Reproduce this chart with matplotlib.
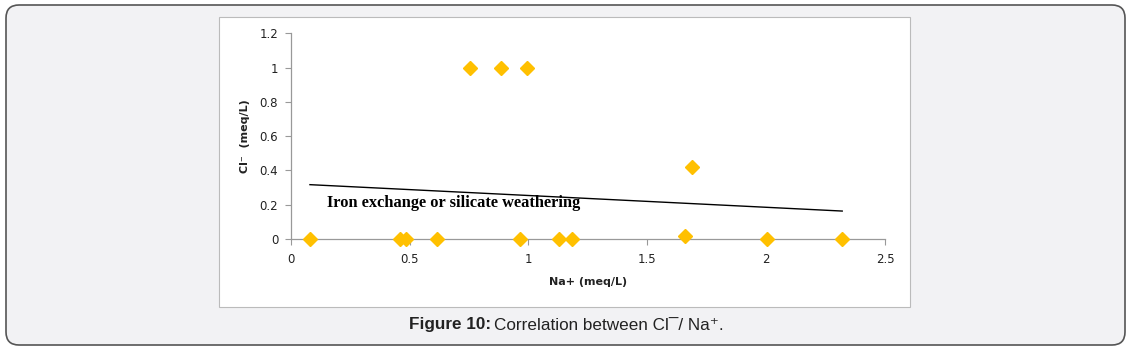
import matplotlib.pyplot as plt
from matplotlib.patches import FancyBboxPatch, Rectangle

# --- data ---
na = [0.081, 0.458, 0.486, 0.615, 0.964, 1.129, 1.182, 1.657, 2.005, 2.32,
      0.756, 0.884, 0.992, 1.689]
cl = [0, 0, 0, 0, 0, 0, 0, 0.02, 0, 0,
      1, 1, 1, 0.42]
line_x = [0.081, 2.32]
line_y = [0.317, 0.163]
x_ticks = [0, 0.5, 1, 1.5, 2, 2.5]
x_tick_labels = ['0', '0.5', '1', '1.5', '2', '2.5']
y_ticks = [0, 0.2, 0.4, 0.6, 0.8, 1, 1.2]
y_tick_labels = ['0', '0.2', '0.4', '0.6', '0.8', '1', '1.2']

W, H = 1132, 350
fig = plt.figure(figsize=(W / 100, H / 100), dpi=100)
fig.patch.set_facecolor('white')

# background axes in pixel units for the frame and panel
bg = fig.add_axes([0, 0, 1, 1], zorder=-1)
bg.set_xlim(0, W)
bg.set_ylim(H, 0)
bg.axis('off')
bg.add_patch(FancyBboxPatch((6, 5), 1119, 340,
                            boxstyle='round,pad=0,rounding_size=13',
                            facecolor='#f2f2f4', edgecolor='#555555',
                            linewidth=1.2))
bg.add_patch(Rectangle((219, 17), 691, 290, facecolor='white',
                       edgecolor='#bbbbbb', linewidth=0.8))

ax = fig.add_axes([290.7 / W, 1 - 239 / H, 594.3 / W, 205.7 / H])
ax.set_facecolor('none')
ax.plot(line_x, line_y, color='black', linewidth=1.0)
ax.plot(na, cl, linestyle='none', marker='D', markersize=7.5,
        color='#ffc000', markeredgecolor='#ffc000', clip_on=False, zorder=3)

ax.set_xlim(0, 2.5)
ax.set_ylim(0, 1.2)
ax.set_xticks(x_ticks)
ax.set_xticklabels(x_tick_labels)
ax.set_yticks(y_ticks)
ax.set_yticklabels(y_tick_labels)
for s in ['top', 'right']:
    ax.spines[s].set_visible(False)
for s in ['left', 'bottom']:
    ax.spines[s].set_color('#999999')
    ax.spines[s].set_linewidth(0.9)
ax.tick_params(axis='both', direction='out', length=4, color='#999999',
               labelsize=8.5, labelcolor='#222222')
ax.tick_params(axis='x', pad=6)
ax.tick_params(axis='y', pad=5)

ax.set_xlabel('Na+ (meq/L)', fontsize=8, fontweight='bold', labelpad=8,
              color='#222222')
ax.set_ylabel('Cl\u207b  (meq/L)', fontsize=8, fontweight='bold', labelpad=7,
              color='#222222')

ax.text(0.686, 0.21, 'Iron exchange or silicate weathering',
        family='Liberation Serif', fontweight='bold', fontsize=11.8,
        ha='center', va='center')

# caption
fig.text(491 / W, 1 - 325 / H, 'Figure 10:', family='Liberation Sans',
         fontweight='bold', fontsize=12.3, ha='right', va='center',
         color='#222222')
fig.text(494 / W, 1 - 325 / H, 'Correlation between Cl\u00af/ Na\u207a.',
         family=['Liberation Sans', 'DejaVu Sans'], fontsize=12.3,
         ha='left', va='center', color='#222222')

fig.savefig('out.png', dpi=100)
